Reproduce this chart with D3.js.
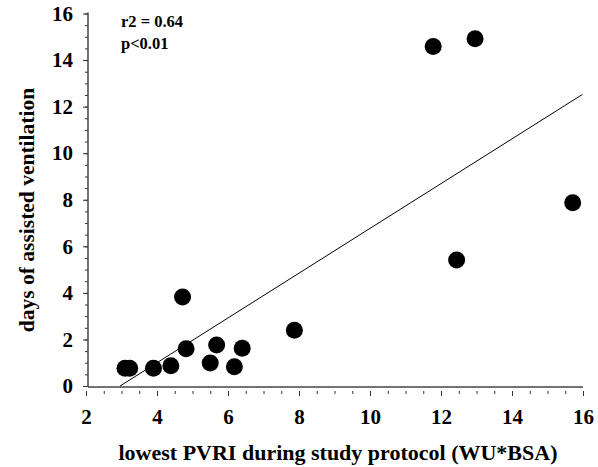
<!DOCTYPE html>
<html>
<head>
<meta charset="utf-8">
<script src="https://cdn.jsdelivr.net/npm/d3@7"></script>
<style>
  body { margin: 0; background: #fff; }
  svg text { font-family: "Liberation Serif", "Times New Roman", serif; font-weight: bold; }
</style>
</head>
<body>
<svg width="598" height="467"></svg>
<script>
// The data
var pvri = [3.1, 3.23, 3.9, 4.39, 4.72, 4.82, 5.5, 5.68, 6.18, 6.4, 7.87, 11.78, 12.96, 12.44, 15.71];
var days = [0.76, 0.76, 0.76, 0.87, 3.82, 1.6, 0.99, 1.76, 0.83, 1.62, 2.39, 14.58, 14.92, 5.41, 7.87];
var fitX = [2.96, 15.98];
var fitY = [0, 12.52];
var xTicks = [2, 4, 6, 8, 10, 12, 14, 16];
var yTicks = [0, 2, 4, 6, 8, 10, 12, 14, 16];
var stats = ["r2 = 0.64", "p<0.01"];

// The svg
var svg = d3.select("svg");

// Scales
var x = d3.scaleLinear().domain([2, 16]).range([86, 583]);
var y = d3.scaleLinear().domain([0, 16]).range([386, 13.5]);

var halfX = d3.range(2, 16.01, 0.5);
var halfY = d3.range(0, 16.01, 0.5);

// x axis (minor ticks, then major with labels)
var xg = svg.append("g").attr("transform", "translate(0,391)");
xg.call(d3.axisBottom(x).tickValues(halfX).tickFormat("").tickSize(3).tickSizeOuter(0));
xg.append("g").call(d3.axisBottom(x).tickValues(xTicks).tickFormat(d3.format("d")).tickSize(5).tickSizeOuter(0).tickPadding(13));
xg.selectAll(".domain").remove();
xg.selectAll("line").attr("stroke", "#333");
xg.selectAll("text").attr("font-size", 21).attr("fill", "#000");

svg.append("line")
    .attr("x1", 88).attr("x2", x(16))
    .attr("y1", 387).attr("y2", 387)
    .attr("stroke", "#444").attr("stroke-width", 1.5);

// y axis
var yg = svg.append("g").attr("transform", "translate(88,0)");
yg.call(d3.axisLeft(y).tickValues(halfY).tickFormat("").tickSize(3).tickSizeOuter(0));
yg.append("g").call(d3.axisLeft(y).tickValues(yTicks).tickFormat(d3.format("d")).tickSize(5).tickSizeOuter(0).tickPadding(10));
yg.selectAll(".domain").remove();
yg.selectAll("line").attr("stroke", "#333");
yg.selectAll("text").attr("font-size", 21).attr("fill", "#000");

svg.append("line")
    .attr("x1", 88).attr("x2", 88)
    .attr("y1", y(16) - 1).attr("y2", 387)
    .attr("stroke", "#444").attr("stroke-width", 1.5);

// Regression line
svg.append("line")
    .attr("x1", x(fitX[0])).attr("y1", y(fitY[0]))
    .attr("x2", x(fitX[1])).attr("y2", y(fitY[1]))
    .attr("stroke", "#000").attr("stroke-width", 1);

// Points
svg.append("g")
    .selectAll("circle")
    .data(pvri)
    .enter().append("circle")
        .attr("cx", function (d) { return x(d); })
        .attr("cy", function (d, i) { return y(days[i]); })
        .attr("r", 8.5)
        .attr("fill", "#000");

// Stats text
svg.append("g")
    .selectAll("text")
    .data(stats)
    .enter().append("text")
        .attr("x", 121)
        .attr("y", function (d, i) { return 27 + i * 22; })
        .attr("font-size", 16.5)
        .text(function (d) { return d; });

// Axis titles
svg.append("text")
    .attr("x", 338)
    .attr("y", 460)
    .attr("text-anchor", "middle")
    .attr("font-size", 22)
    .text("lowest PVRI during study protocol (WU*BSA)");

svg.append("text")
    .attr("transform", "translate(34,210) rotate(-90)")
    .attr("text-anchor", "middle")
    .attr("font-size", 21.5)
    .text("days of assisted ventilation");
</script>
</body>
</html>
